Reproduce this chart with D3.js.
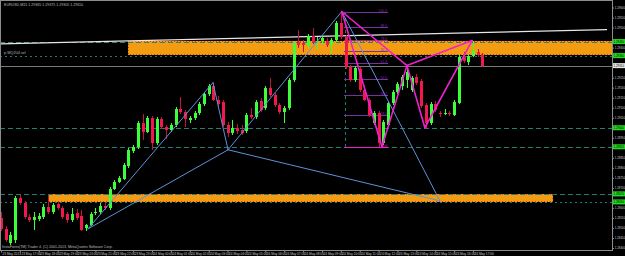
<!DOCTYPE html>
<html><head><meta charset="utf-8">
<script src="https://cdn.jsdelivr.net/npm/d3@7"></script>
<style>
html,body{margin:0;padding:0;background:#000;}
svg{display:block;}
text{font-family:"Liberation Sans",Arial,sans-serif;}
</style></head><body>
<svg id="c" width="625" height="256"></svg>
<script>
// ---------------- data ----------------
const symbolTitle = "EURUSD,M15  1.29365 1.29375 1.29305 1.29310";
const copyright = "InstaForex(TM) Trader 4, (C) 2001-2013, MetaQuotes Software Corp.";
const levelName = "p-WQ2U4 sel";

const hourLabels = ["23 May 2013","23 May 17:00","23 May 18:00","23 May 19:00","23 May 20:00","23 May 21:00","23 May 22:00","23 May 23:00",
  "24 May 00:00","24 May 01:00","24 May 02:00","24 May 03:00","24 May 04:00","24 May 05:00","24 May 06:00","24 May 07:00","24 May 08:00",
  "24 May 09:00","24 May 10:00","24 May 11:00","24 May 12:00","24 May 13:00","24 May 14:00","24 May 15:00","24 May 16:00","24 May 17:00"];

const priceTicks = [1.28400,1.28450,1.28500,1.28550,1.28600,1.28650,1.28700,1.28750,1.28800,1.28850,1.28900,1.28950,
  1.29000,1.29050,1.29100,1.29150,1.29200,1.29250,1.29300,1.29350,1.29400,1.29450,1.29500,1.29550,1.29600];

const open = [1.28550,1.28495,1.28425,1.28440,1.28650,1.28625,1.28555,1.28540,1.28545,1.28555,
1.28605,1.28580,1.28620,1.28600,1.28570,1.28540,1.28575,1.28560,1.28500,1.28515,
1.28575,1.28580,1.28610,1.28600,1.28695,1.28730,1.28745,1.28810,1.28885,1.28905,
1.29025,1.28980,1.29050,1.28925,1.29045,1.29005,1.28990,1.29015,1.29095,1.29080,
1.29040,1.29050,1.29075,1.29120,1.29170,1.29210,1.29140,1.29130,1.29015,1.28975,
1.29000,1.28990,1.28985,1.29065,1.29055,1.29135,1.29100,1.29200,1.29165,1.29115,
1.29080,1.29100,1.29240,1.29430,1.29425,1.29410,1.29460,1.29430,1.29435,1.29435,
1.29415,1.29440,1.29525,1.29455,1.29305,1.29240,1.29295,1.29190,1.29140,1.29025,
1.29075,1.28925,1.29015,1.29125,1.29180,1.29210,1.29240,1.29190,1.29255,1.29235,
1.29115,1.29025,1.29120,1.29075,1.29070,1.29075,1.29065,1.29125,1.29355,1.29330,
1.29360,1.29380,1.29365];
const high = [1.28580,1.28510,1.28480,1.28660,1.28665,1.28635,1.28570,1.28580,1.28575,1.28620,
1.28665,1.28625,1.28635,1.28610,1.28580,1.28600,1.28595,1.28590,1.28520,1.28580,
1.28600,1.28625,1.28625,1.28705,1.28740,1.28760,1.28825,1.28900,1.28915,1.29035,
1.29070,1.29060,1.29060,1.29055,1.29055,1.29015,1.29025,1.29105,1.29155,1.29090,
1.29060,1.29085,1.29130,1.29175,1.29220,1.29225,1.29160,1.29140,1.29030,1.29040,
1.29020,1.29015,1.29075,1.29100,1.29140,1.29150,1.29210,1.29250,1.29175,1.29125,
1.29110,1.29250,1.29435,1.29490,1.29440,1.29470,1.29500,1.29455,1.29460,1.29450,
1.29450,1.29535,1.29580,1.29465,1.29315,1.29310,1.29305,1.29200,1.29150,1.29085,
1.29085,1.29040,1.29135,1.29190,1.29230,1.29265,1.29310,1.29260,1.29270,1.29245,
1.29125,1.29130,1.29135,1.29085,1.29095,1.29085,1.29140,1.29365,1.29380,1.29370,
1.29435,1.29395,1.29375];
const low = [1.28485,1.28430,1.28415,1.28425,1.28615,1.28545,1.28530,1.28490,1.28535,1.28545,
1.28570,1.28570,1.28590,1.28545,1.28525,1.28530,1.28540,1.28485,1.28485,1.28510,
1.28565,1.28570,1.28590,1.28590,1.28690,1.28725,1.28740,1.28800,1.28875,1.28895,
1.28940,1.28975,1.28890,1.28915,1.28995,1.28945,1.28980,1.29005,1.29070,1.29005,
1.29025,1.29040,1.29065,1.29110,1.29160,1.29135,1.29100,1.29005,1.28955,1.28965,
1.28970,1.28965,1.28975,1.29045,1.29045,1.29080,1.29090,1.29155,1.29105,1.29070,
1.29025,1.29090,1.29230,1.29400,1.29380,1.29400,1.29420,1.29390,1.29420,1.29405,
1.29370,1.29430,1.29445,1.29295,1.29230,1.29230,1.29180,1.29135,1.29055,1.29015,
1.28905,1.28915,1.29005,1.29115,1.29170,1.29190,1.29200,1.29180,1.29215,1.29100,
1.29000,1.29015,1.29080,1.29055,1.29065,1.29060,1.29060,1.29120,1.29325,1.29315,
1.29355,1.29355,1.29305];
const close = [1.28495,1.28440,1.28465,1.28650,1.28625,1.28555,1.28540,1.28555,1.28560,1.28605,
1.28580,1.28615,1.28600,1.28555,1.28540,1.28570,1.28550,1.28490,1.28515,1.28570,
1.28580,1.28610,1.28600,1.28695,1.28730,1.28750,1.28815,1.28890,1.28905,1.29025,
1.28980,1.29050,1.28925,1.29045,1.29005,1.28990,1.29015,1.29095,1.29080,1.29045,
1.29050,1.29075,1.29120,1.29170,1.29210,1.29140,1.29120,1.29015,1.28975,1.29000,
1.28985,1.28975,1.29065,1.29055,1.29130,1.29090,1.29200,1.29165,1.29115,1.29080,
1.29100,1.29240,1.29425,1.29415,1.29415,1.29460,1.29430,1.29435,1.29450,1.29415,
1.29440,1.29525,1.29455,1.29305,1.29240,1.29300,1.29190,1.29140,1.29065,1.29075,
1.28925,1.29030,1.29125,1.29180,1.29220,1.29255,1.29280,1.29250,1.29225,1.29110,
1.29025,1.29120,1.29090,1.29070,1.29075,1.29070,1.29130,1.29355,1.29335,1.29360,
1.29385,1.29365,1.29310];

// horizontal levels (price)
const levelPrices = [1.29430, 1.29360, 1.29000, 1.28905, 1.28670, 1.28630];
const bidPrice = 1.29310;
// rectangles (bar index / price)
const bandStart = [27, 10];
const bandEnd = [140, 117];
const bandTop = [1.29435, 1.28670];
const bandBottom = [1.29365, 1.28630];
// trend line (bar index, price)
const trendIdx = [-0.2, 128.4];
const trendPrice = [1.29418, 1.29490];
// blue projected pattern X A B C D (bar index, price)
const bluePatIdx = [18.4, 44.9, 48.1, 72.2, 93.0];
const bluePatPrice = [1.28495, 1.29225, 1.28890, 1.29580, 1.28635];
// pink pattern X A B C D
const pinkPatIdx = [72.2, 80.7, 86.0, 89.8, 99.8];
const pinkPatPrice = [1.29580, 1.28905, 1.29310, 1.29000, 1.29435];
// fibonacci levels
const fibRatios = [0, 0.236, 0.382, 0.5, 0.618, 0.707, 0.786, 0.886, 1];
const fibLabels = ["0.0","23.6","38.2","50.0","61.8","70.7","78.6","88.6","100.0"];
const fibHigh = 1.29580, fibLow = 1.28905;
const fibIdx = [72.9, 82.0];

// ---------------- drawing ----------------
const W = 625, H = 256;
const plotRight = 612, plotBottom = 250;
const svg = d3.select("#c");
svg.append("rect").attr("width", W).attr("height", H).attr("fill", "#000");

const x = d3.scaleLinear().domain([0, 129]).range([1, 609.9]);
const y = d3.scaleLinear().domain([1.2840, 1.2960]).range([248, 7.5]);

const plot = svg.append("g");
svg.append("clipPath").attr("id", "pc").append("rect")
  .attr("x", 1).attr("y", 1).attr("width", plotRight - 1).attr("height", plotBottom - 1);
plot.attr("clip-path", "url(#pc)");

// bands
bandStart.forEach((s, k) => {
  const x0 = Math.round(x(s)), x1 = Math.round(x(bandEnd[k]));
  const y0 = Math.round(y(bandTop[k])), y1 = Math.round(y(bandBottom[k]));
  plot.append("rect").attr("x", x0).attr("y", y0).attr("width", x1 - x0).attr("height", y1 - y0)
    .attr("fill", "#f39c12");
  plot.append("rect").attr("x", x0 + 0.5).attr("y", y0 + 0.5).attr("width", x1 - x0 - 1).attr("height", y1 - y0 - 1)
    .attr("fill", "none").attr("stroke", "#d8401a").attr("stroke-width", 1).attr("stroke-dasharray", "1,2")
    .attr("shape-rendering", "crispEdges");
});

// horizontal levels
levelPrices.forEach((p, k) => {
  plot.append("line").attr("x1", 0).attr("x2", plotRight).attr("y1", Math.round(y(p)) + 0.5).attr("y2", Math.round(y(p)) + 0.5)
    .attr("stroke", k === 0 ? "#3d7d6a" : "#1f7f70").attr("stroke-width", 1)
    .attr("stroke-dasharray", (k === 1 || k === 5) ? "2,3" : "5,3").attr("shape-rendering", "crispEdges");
});

// bid line
plot.append("line").attr("x1", 0).attr("x2", plotRight).attr("y1", Math.round(y(bidPrice)) + 0.5).attr("y2", Math.round(y(bidPrice)) + 0.5)
  .attr("stroke", "#7a7a7a").attr("stroke-width", 1).attr("shape-rendering", "crispEdges");

// trend line
plot.append("line").attr("x1", x(trendIdx[0])).attr("y1", y(trendPrice[0])).attr("x2", x(trendIdx[1])).attr("y2", y(trendPrice[1]))
  .attr("stroke", "#e6e6e6").attr("stroke-width", 1.2);

// level name text
plot.append("text").attr("x", 4).attr("y", y(1.29360) - 1.5).attr("fill", "#bdbdbd").attr("font-size", 3.6).text(levelName);

// fib
const fibG = plot.append("g");
fibG.append("line").attr("x1", Math.round(x(fibIdx[0])) + 0.5).attr("x2", Math.round(x(fibIdx[0])) + 0.5)
  .attr("y1", y(fibHigh)).attr("y2", y(fibLow)).attr("stroke", "#1f7f70").attr("stroke-dasharray", "3,3").attr("shape-rendering", "crispEdges");
fibRatios.forEach((r, k) => {
  const p = fibLow + (fibHigh - fibLow) * r;
  const yy = Math.round(y(p)) + 0.5;
  const col = r === 0 ? "#ee22cc" : "#7a2fa0";
  fibG.append("line").attr("x1", x(fibIdx[0]) - 1).attr("x2", x(fibIdx[1])).attr("y1", yy).attr("y2", yy)
    .attr("stroke", col).attr("stroke-width", 1.2).attr("shape-rendering", "crispEdges");
  fibG.append("text").attr("x", x(fibIdx[1]) - 1).attr("y", yy - 1).attr("text-anchor", "end")
    .attr("fill", col).attr("font-size", 3.4).text(fibLabels[k]);
});

// candles
const gC = plot.append("g");
open.forEach((o, i) => {
  const c = close[i];
  const up = c >= o;
  const col = up ? "#3cff3c" : "#f0184c";
  const cx = Math.round(x(i));
  gC.append("line").attr("x1", cx + 0.5).attr("x2", cx + 0.5).attr("y1", y(high[i])).attr("y2", y(low[i]))
    .attr("stroke", up ? "#3cff3c" : "#c0143c").attr("stroke-width", 1).attr("shape-rendering", "crispEdges");
  const yt = Math.round(y(Math.max(o, c))), yb = Math.round(y(Math.min(o, c)));
  gC.append("rect").attr("x", cx - 1).attr("y", yt).attr("width", 3).attr("height", Math.max(1, yb - yt))
    .attr("fill", col).attr("shape-rendering", "crispEdges");
});

// pattern lines
const patPairs = [[0,1],[1,2],[2,3],[3,4],[0,2],[2,4]];
const drawPat = (idx, pr, col, w) => {
  patPairs.forEach(([a, b]) => {
    plot.append("line").attr("x1", x(idx[a])).attr("y1", y(pr[a])).attr("x2", x(idx[b])).attr("y2", y(pr[b]))
      .attr("stroke", col).attr("stroke-width", w).attr("stroke-linecap", "round");
  });
};
drawPat(bluePatIdx, bluePatPrice, "#6190d8", 1);
drawPat(pinkPatIdx, pinkPatPrice, "#f020d0", 1.6);

// title
svg.append("text").attr("x", 4).attr("y", 5.5).attr("fill", "#bdbdbd").attr("font-size", 3.6).text(symbolTitle);
svg.append("text").attr("x", 2).attr("y", 248).attr("fill", "#bdbdbd").attr("font-size", 3.6).text(copyright);

// frame
svg.append("rect").attr("x", 0.5).attr("y", 0.5).attr("width", plotRight).attr("height", plotBottom)
  .attr("fill", "none").attr("stroke", "#8c8c8c").attr("stroke-width", 1).attr("shape-rendering", "crispEdges");

// price axis (tick labels hidden where a price tag covers them, as the terminal does)
const tagPrices = levelPrices.concat([bidPrice]);
const visibleTicks = priceTicks.filter(t => tagPrices.every(p => Math.abs(y(p) - y(t)) > 5));
const yAxis = d3.axisRight(y).tickValues(visibleTicks).tickSize(1.5).tickPadding(0.8).tickFormat(d3.format(".5f"));
const gy = svg.append("g").attr("transform", `translate(${plotRight + 0.5},0)`).call(yAxis);
gy.select(".domain").remove();
gy.selectAll("line").attr("stroke", "#8c8c8c");
gy.selectAll("text").attr("fill", "#c8c8c8").attr("font-size", 2.9).attr("font-family", "Liberation Sans, Arial");

// highlighted price labels
const tagG = svg.append("g");
tagPrices.forEach((p, k) => {
  const yy = y(p);
  const isBid = k === levelPrices.length;
  tagG.append("rect").attr("x", plotRight + 1).attr("y", yy - 2.5).attr("width", 12).attr("height", 5)
    .attr("fill", isBid ? "#e8e8e8" : "#22dd22");
  tagG.append("text").attr("x", plotRight + 1.6).attr("y", yy + 1.1).attr("fill", "#000").attr("font-size", 2.9)
    .text(d3.format(".5f")(p));
});

// time axis
const xAxis = d3.axisBottom(x).tickValues(hourLabels.map((d, k) => k * 4)).tickSize(2)
  .tickFormat((d, k) => hourLabels[k]);
const gx = svg.append("g").attr("transform", `translate(0,${plotBottom + 0.5})`).call(xAxis);
gx.select(".domain").remove();
gx.selectAll("line").attr("stroke", "#8c8c8c");
gx.selectAll("text").attr("fill", "#c8c8c8").attr("font-size", 3.2).attr("text-anchor", "start")
  .attr("dx", 1).attr("dy", 0).attr("y", 4.6).attr("font-family", "Liberation Sans, Arial");
</script>
</body></html>
